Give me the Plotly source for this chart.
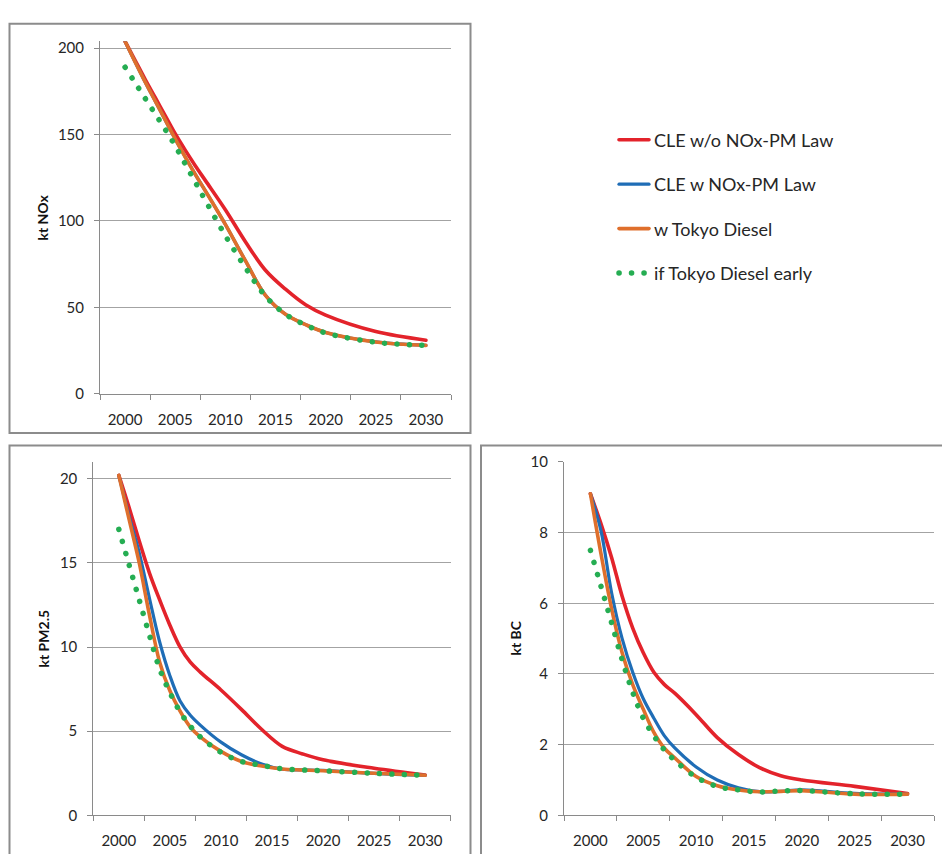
import plotly.graph_objects as go

# ---------------- data ----------------
YEARS = [2000, 2001, 2002, 2003, 2004, 2005, 2006, 2007, 2008, 2010, 2012, 2014, 2016, 2018, 2020, 2025, 2030]
SERIES = ["CLE w/o NOx-PM Law", "CLE w NOx-PM Law", "w Tokyo Diesel", "if Tokyo Diesel early"]

# kt NOx
nox_red    = [204, 193, 182, 171.5, 161, 150.5, 141, 132, 123.5, 106.5, 88, 71.5, 60.5, 51.5, 45.5, 36, 31]
nox_blue   = [204, 192, 180.5, 169.5, 158.5, 147.5, 137, 127, 117.5, 98, 77, 57, 46, 40, 35.5, 30, 28]
nox_orange = [204, 192, 180.5, 169.5, 158.5, 147.5, 137, 127, 117.5, 98, 77, 57, 46, 40, 35.5, 30, 28]
nox_green  = [189, 180, 171, 162, 153, 143.5, 133, 122.5, 112, 91.5, 73, 56.5, 46, 39.8, 35.2, 29.8, 28]

# kt PM2.5
pm_red    = [20.2, 18.3, 16.3, 14.4, 12.8, 11.3, 10.0, 9.1, 8.5, 7.45, 6.3, 5.1, 4.1, 3.65, 3.3, 2.8, 2.4]
pm_blue   = [20.2, 17.8, 15.6, 12.9, 10.3, 8.3, 6.8, 5.95, 5.35, 4.35, 3.6, 3.05, 2.74, 2.7, 2.67, 2.5, 2.38]
pm_orange = [20.2, 17.6, 15.0, 11.9, 9.1, 7.4, 6.2, 5.25, 4.65, 3.8, 3.2, 2.93, 2.76, 2.7, 2.65, 2.5, 2.38]
pm_green  = [17.0, 14.9, 12.8, 10.7, 8.7, 7.3, 6.15, 5.3, 4.65, 3.75, 3.2, 2.97, 2.77, 2.7, 2.65, 2.5, 2.38]

# kt BC
bc_red    = [9.1, 8.25, 7.3, 6.2, 5.3, 4.6, 4.05, 3.7, 3.45, 2.85, 2.2, 1.72, 1.35, 1.12, 1.0, 0.82, 0.62]
bc_blue   = [9.1, 8.05, 6.3, 5.0, 4.05, 3.3, 2.75, 2.25, 1.9, 1.37, 1.0, 0.78, 0.67, 0.68, 0.72, 0.62, 0.6]
bc_orange = [9.1, 7.4, 5.85, 4.6, 3.7, 3.0, 2.35, 1.9, 1.62, 1.1, 0.84, 0.72, 0.67, 0.68, 0.7, 0.6, 0.6]
bc_green  = [7.5, 6.48, 5.45, 4.4, 3.48, 2.75, 2.25, 1.85, 1.55, 1.08, 0.82, 0.72, 0.66, 0.69, 0.7, 0.61, 0.6]

X_TICKS = [2000, 2005, 2010, 2015, 2020, 2025, 2030]
Y_TITLES = ["kt NOx", "kt PM2.5", "kt BC"]

# ---------------- style ----------------
W, H = 942, 854
FONT = "Lato, Carlito, Calibri, 'Open Sans', sans-serif"
COLORS = ["#e3232b", "#1f6db6", "#df6f2c", "#25ad52"]
WIDTHS = [3.6, 3.2, 3.6, 5.5]
DASHES = ["solid", "solid", "solid", "0.1px,12.4px"]
GRID = "#a3a3a3"
AXIS = "#8a8a8a"
TXT = "#262626"


def px_x(p):
    return p / W


def px_y(p):
    return 1 - p / H


panels = [
    dict(data=[nox_red, nox_blue, nox_orange, nox_green], yr=[0, 204], dt=50,
         xd=[100, 451], yd=[392, 32], title=(43, 212)),
    dict(data=[pm_red, pm_blue, pm_orange, pm_green], yr=[0, 21], dt=5,
         xd=[93.3, 450.7], yd=[822.7, 461.7], title=(43, 642)),
    dict(data=[bc_red, bc_blue, bc_orange, bc_green], yr=[0, 10], dt=2,
         xd=[564, 934], yd=[822.7, 461.7], title=(515, 642)),
]

fig = go.Figure()
layout = dict(
    width=W, height=H, margin=dict(l=0, r=0, t=0, b=0),
    paper_bgcolor="white", plot_bgcolor="white",
    font=dict(family=FONT, color=TXT, size=15),
    showlegend=True,
    legend=dict(x=px_x(614), y=px_y(114), xanchor="left", yanchor="top",
                font=dict(family=FONT, size=18, color=TXT),
                tracegroupgap=18, bgcolor="rgba(0,0,0,0)", itemwidth=30),
    annotations=[], shapes=[],
)

for i, p in enumerate(panels):
    n = "" if i == 0 else str(i + 1)
    xa, ya = "x" + n, "y" + n
    for s in range(4):
        fig.add_trace(go.Scatter(
            x=YEARS, y=p["data"][s], name=SERIES[s], mode="lines",
            line=dict(color=COLORS[s], width=WIDTHS[s], dash=DASHES[s], shape="spline", smoothing=1.0),
            legendgroup=SERIES[s], showlegend=(i == 0),
            xaxis=xa, yaxis=ya, hoverinfo="skip",
        ))
    layout["xaxis" + n] = dict(
        domain=[px_x(p["xd"][0]), px_x(p["xd"][1])], anchor=ya,
        range=[1997.5, 2032.5], tickvals=X_TICKS, ticks="", showgrid=False, zeroline=False,
        showline=True, linecolor=AXIS, linewidth=1,
        minor=dict(ticks="outside", tick0=1997.5, dtick=5, ticklen=5, tickcolor=AXIS, tickwidth=1, showgrid=False),
        tickfont=dict(family=FONT, size=15, color=TXT), ticklabelstandoff=12, fixedrange=True,
    )
    layout["yaxis" + n] = dict(
        domain=[px_y(p["yd"][0]), px_y(p["yd"][1])], anchor=xa,
        range=p["yr"], tick0=0, dtick=p["dt"], ticks="outside", ticklen=5, tickcolor=AXIS,
        showgrid=True, gridcolor=GRID, gridwidth=1, zeroline=False,
        showline=True, linecolor=AXIS, linewidth=1,
        tickfont=dict(family=FONT, size=15, color=TXT), ticklabelstandoff=7, fixedrange=True,
    )
    tx, ty = p["title"]
    layout["annotations"].append(dict(
        text="<b>%s</b>" % Y_TITLES[i], x=px_x(tx), y=px_y(ty), xref="paper", yref="paper",
        textangle=-90, showarrow=False, xanchor="center", yanchor="middle",
        font=dict(family=FONT, size=14, color="#111111"),
    ))

# panel frames
BORDER = dict(color="#8c8c8c", width=2)
for (x0, y0, x1, y1) in [(9.5, 14, 470.5, 432), (9.5, 445, 470.5, 870), (481, 445, 960, 870)]:
    layout["shapes"].append(dict(type="rect", xref="paper", yref="paper",
                                 x0=px_x(x0), x1=px_x(x1), y0=px_y(y1), y1=px_y(y0),
                                 line=BORDER, fillcolor="rgba(0,0,0,0)", layer="below"))

fig.update_layout(**layout)

post = """
document.documentElement.style.margin='0';
document.body.style.margin='0';
document.body.style.overflow='hidden';
var gd=document.getElementById('{plot_id}');
gd.style.position='fixed'; gd.style.left='0px'; gd.style.top='0px';
document.querySelectorAll('.js-line').forEach(function(p){p.style.strokeLinecap='round';p.style.strokeLinejoin='round';});
"""
fig.write_html("out.html", post_script=post, config={"displayModeBar": False})
